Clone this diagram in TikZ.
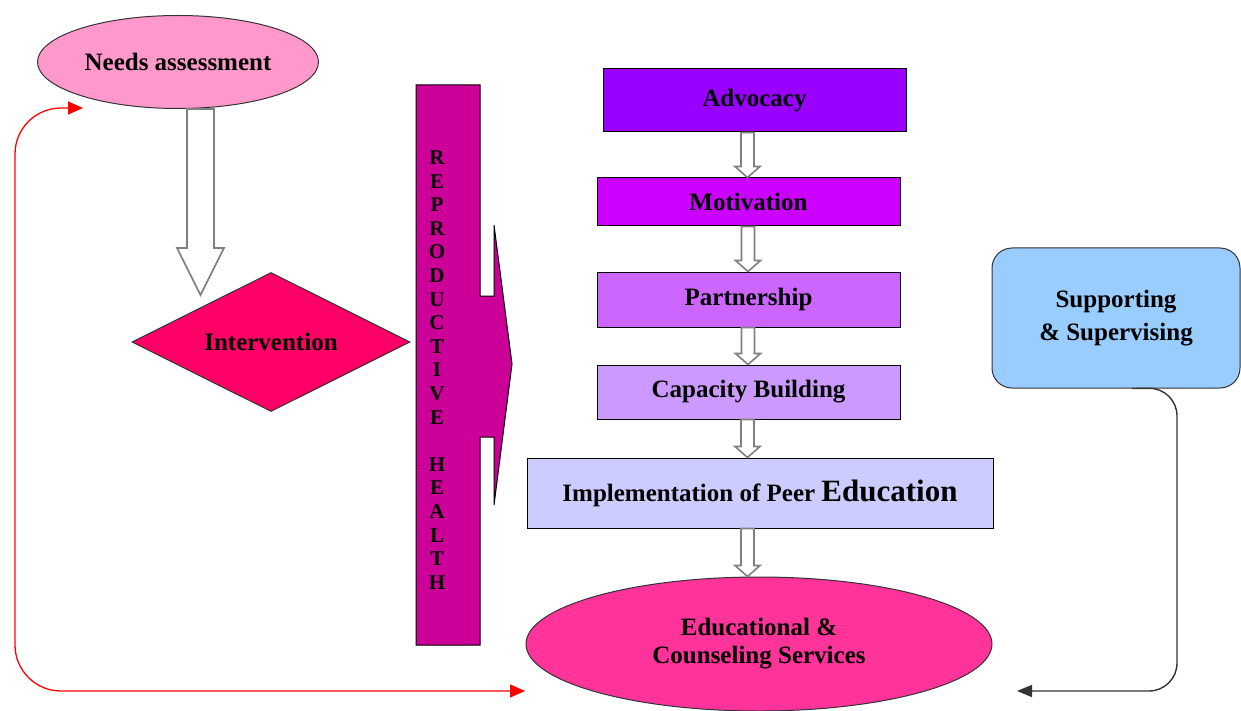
\documentclass[tikz,border=0pt]{standalone}
\usepackage{fontspec}
\setmainfont{Liberation Serif}
\usetikzlibrary{shapes.geometric,arrows.meta,calc}
\definecolor{needsc}{HTML}{FF99CC}
\definecolor{intc}{HTML}{FF0066}
\definecolor{rhc}{HTML}{CC0099}
\definecolor{advc}{HTML}{9900FF}
\definecolor{motc}{HTML}{CC00FF}
\definecolor{partc}{HTML}{CC66FF}
\definecolor{capc}{HTML}{CC99FF}
\definecolor{impc}{HTML}{CCCCFF}
\definecolor{educ}{HTML}{FF3399}
\definecolor{supc}{HTML}{99CCFF}
\definecolor{arrgray}{HTML}{808080}
\definecolor{edgegray}{HTML}{333333}
% block arrow pointing down: #1 from, #2 to, #3 x centre, #4 shaft half, #5 head half, #6 head length
\newcommand{\blockdown}[6]{%
  \draw[blk] let \p1=(#1), \p2=(#2) in
    ({(#3-#4)*1pt},\y1) -- ({(#3-#4)*1pt},\y2+#6pt) -- ({(#3-#5)*1pt},\y2+#6pt)
    -- ({#3*1pt},\y2) -- ({(#3+#5)*1pt},\y2+#6pt) -- ({(#3+#4)*1pt},\y2+#6pt)
    -- ({(#3+#4)*1pt},\y1) -- cycle;}
\tikzset{
  box/.style={draw=black, line width=1pt, rectangle, inner sep=0pt, align=center},
  ell/.style={draw=edgegray, line width=1pt, ellipse, inner sep=0pt, align=center},
  blk/.style={draw=arrgray, fill=white, line width=1.6pt, line join=miter},
  redline/.style={draw=red, line width=1.3pt},
  blackline/.style={draw=edgegray, line width=1.4pt},
}
\begin{document}
\begin{tikzpicture}[x=1pt, y=-1pt, font=\fontsize{25}{28}\selectfont\bfseries]
\useasboundingbox[fill=white] (0,0) rectangle (1241,711);

% Needs assessment
\node[ell, fill=needsc, minimum width=281pt, minimum height=93pt] (needs) at (178,62) {Needs assessment};
% Intervention
\node[diamond, aspect=2, draw=edgegray, line width=1pt, fill=intc, minimum width=278pt, minimum height=139pt, inner sep=0pt] (int) at (271,342) {Intervention};
\coordinate (needtip) at (200.5,295);
\blockdown{needs.south}{needtip}{200.5}{13.5}{23.5}{47}

% Reproductive health bar with arrow
\draw[fill=rhc, draw=black, line width=1pt, line join=miter]
  (416,85) -- (480,85) -- (480,296) -- (494,296) -- (494,225) -- (512,364)
  -- (494,505) -- (494,437) -- (480,437) -- (480,645) -- (416,645) -- cycle;
\node[align=center, inner sep=0pt, font=\fontsize{21}{23.6}\selectfont\bfseries] (rh) at (437,370)
  {R\\E\\P\\R\\O\\D\\U\\C\\T\\I\\V\\E\\[23.6pt]H\\E\\A\\L\\T\\H};

% Right column
\node[box, fill=advc, minimum width=303pt, minimum height=63pt] (adv) at (754.5,100.5) {Advocacy};
\node[box, fill=motc, minimum width=303pt, minimum height=48pt] (mot) at (748.5,202) {Motivation};
\node[box, fill=partc, minimum width=303pt, minimum height=55pt] (part) at (748.5,299.5) {Partnership};
\node[box, fill=capc, minimum width=303pt, minimum height=54pt] (cap) at (748.5,392) {Capacity Building};
\node[box, fill=impc, minimum width=466pt, minimum height=70pt] (imp) at (760,493)
  {Implementation of Peer {\fontsize{31}{31}\selectfont Education}};
\node[ell, fill=educ, minimum width=466pt, minimum height=134pt, font=\fontsize{25}{28}\selectfont\bfseries] (edu) at (759,644)
  {Educational \&\\Counseling Services};

\blockdown{adv.south}{mot.north}{747.5}{6.5}{12.5}{11}
\blockdown{mot.south}{part.north}{748}{6.5}{12.5}{11}
\blockdown{part.south}{cap.north}{748}{6.5}{12.5}{11}
\blockdown{cap.south}{imp.north}{747.5}{6.5}{12.5}{11}
\blockdown{imp.south}{edu.north}{747.5}{6.5}{12.5}{11}

% Supporting & Supervising
\node[draw=edgegray, line width=1pt, fill=supc, rounded corners=20pt, minimum width=248pt, minimum height=140pt,
  align=center, inner sep=0pt, font=\fontsize{25}{33}\selectfont\bfseries] (sup) at (1116,318)
  {Supporting\\\& Supervising};

% feedback connectors
\coordinate (fbtop) at (83,108);
\coordinate (fbbot) at (525,691);
\draw[redline, rounded corners=46pt, {Triangle[length=15pt,width=13pt]}-{Triangle[length=15pt,width=13pt]}]
  (fbtop) -- (15,108) -- (15,691) -- (fbbot);

\coordinate (supstart) at ($(sup.south)+(16,0)$);
\coordinate (suptip) at (1017,691);
\draw[blackline, rounded corners=28pt, -{Triangle[length=15pt,width=12pt]}]
  (supstart) -- (1177,388) -- (1177,691) -- (suptip);
\end{tikzpicture}
\end{document}
